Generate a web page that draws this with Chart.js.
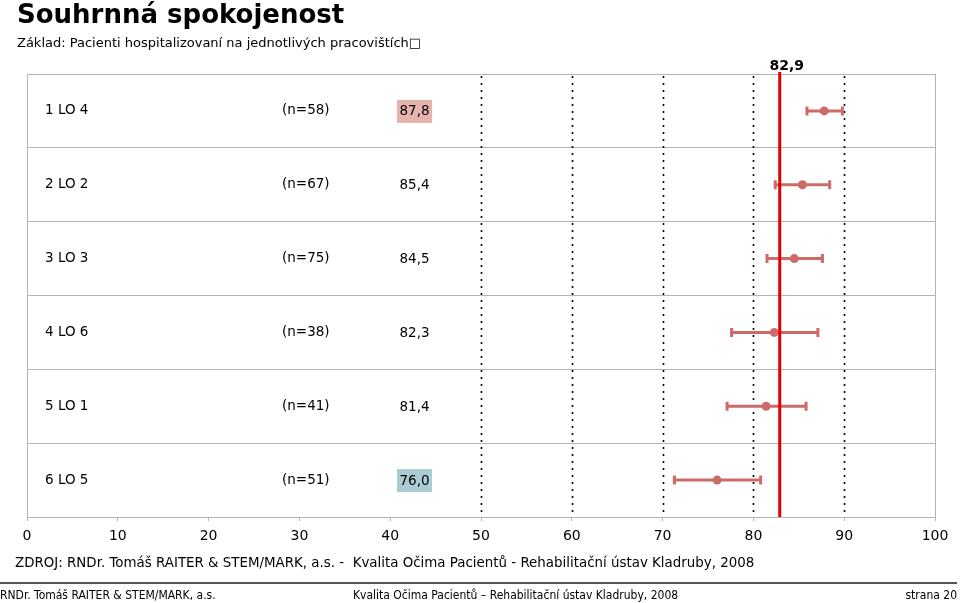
<!DOCTYPE html>
<html>
<head>
<meta charset="utf-8">
<script src="https://cdn.jsdelivr.net/npm/chart.js"></script>
<style>
  html, body { margin: 0; padding: 0; background: #fff; }
  body { width: 960px; height: 603px; position: relative; overflow: hidden; font-family: "DejaVu Sans", Verdana, sans-serif; color: #000; }
  #chart-box { position: absolute; left: 0; top: 0; width: 960px; height: 603px; }
  .txt { position: absolute; white-space: nowrap; }
  #title { left: 17px; top: -1px; font-size: 26px; font-weight: bold; }
  #subtitle { left: 17px; top: 35px; font-size: 13px; }
  #source { left: 15px; top: 555px; font-size: 13.4px; }
  #footline { position: absolute; left: 0; top: 582px; width: 957px; height: 2px; background: #555; }
  .foot { top: 588px; font-size: 12px; font-family: "DejaVu Sans Condensed", "DejaVu Sans", sans-serif; }
</style>
</head>
<body>
<div id="chart-box"><canvas id="myChart"></canvas></div>
<div class="txt" id="title">Souhrnná spokojenost</div>
<div class="txt" id="subtitle">Základ: Pacienti hospitalizovaní na jednotlivých pracovištích&#9633;</div>
<div class="txt" id="source">ZDROJ: RNDr. Tomáš RAITER &amp; STEM/MARK, a.s. -&nbsp; Kvalita Očima Pacientů - Rehabilitační ústav Kladruby, 2008</div>
<div id="footline"></div>
<div class="txt foot" style="left:0px;">RNDr. Tomáš RAITER &amp; STEM/MARK, a.s.</div>
<div class="txt foot" style="left:353px;">Kvalita Očima Pacientů – Rehabilitační ústav Kladruby, 2008</div>
<div class="txt foot" style="right:3px;">strana 20</div>
<script>
const departments = ["1 LO 4", "2 LO 2", "3 LO 3", "4 LO 6", "5 LO 1", "6 LO 5"];
const respondents = [58, 67, 75, 38, 41, 51];
const means = [87.8, 85.4, 84.5, 82.3, 81.4, 76.0];
const lows = [85.9, 82.4, 81.5, 77.6, 77.1, 71.3];
const highs = [89.8, 88.4, 87.6, 87.1, 85.8, 80.8];
const overall = 82.9;
const xTicks = [0, 10, 20, 30, 40, 50, 60, 70, 80, 90, 100];
const dottedLines = [50, 60, 70, 80, 90];

const FONT = '"DejaVu Sans", Verdana, sans-serif';
const BAR_COLOR = "#cd6b68";

function fmt(v) {
  return v.toFixed(1).replace(".", ",");
}

// error bars + dotted reference lines, under the points
const backgroundMarks = {
  id: "backgroundMarks",
  beforeDatasetsDraw(chart) {
    const { ctx, chartArea, scales } = chart;
    const x = scales.x;
    const y = scales.y;
    ctx.save();
    ctx.strokeStyle = "#000";
    ctx.lineWidth = 1.6;
    ctx.setLineDash([2, 5]);
    dottedLines.forEach((v) => {
      const px = Math.round(x.getPixelForValue(v)) + 0.5;
      ctx.beginPath();
      ctx.moveTo(px, chartArea.top + 2);
      ctx.lineTo(px, chartArea.bottom);
      ctx.stroke();
    });
    ctx.setLineDash([]);
    ctx.strokeStyle = BAR_COLOR;
    ctx.lineWidth = 3;
    means.forEach((m, i) => {
      const py = y.getPixelForValue(i + 0.5);
      const x1 = x.getPixelForValue(lows[i]);
      const x2 = x.getPixelForValue(highs[i]);
      ctx.beginPath();
      ctx.moveTo(x1, py);
      ctx.lineTo(x2, py);
      ctx.moveTo(x1, py - 4.5);
      ctx.lineTo(x1, py + 4.5);
      ctx.moveTo(x2, py - 4.5);
      ctx.lineTo(x2, py + 4.5);
      ctx.stroke();
    });
    ctx.restore();
  },
  afterDatasetsDraw(chart) {
    const { ctx, chartArea, scales } = chart;
    const x = scales.x;
    const y = scales.y;
    ctx.save();
    // overall average line
    const px = x.getPixelForValue(overall);
    ctx.strokeStyle = "#e00000";
    ctx.lineWidth = 3;
    ctx.beginPath();
    ctx.moveTo(px, chartArea.top - 2);
    ctx.lineTo(px, chartArea.bottom);
    ctx.stroke();
    ctx.fillStyle = "#000";
    ctx.font = "bold 14px " + FONT;
    ctx.textAlign = "center";
    ctx.textBaseline = "alphabetic";
    ctx.fillText(fmt(overall), px + 7, chartArea.top - 4);

    // row texts
    ctx.font = "13.5px " + FONT;
    ctx.textBaseline = "middle";
    departments.forEach((name, i) => {
      const py = y.getPixelForValue(i + 0.5);
      ctx.textAlign = "left";
      ctx.fillStyle = "#000";
      ctx.fillText(name, 45, py);
      ctx.fillText("(n=" + respondents[i] + ")", 282, py);
      const label = fmt(means[i]);
      const w = ctx.measureText(label).width;
      if (i === 0) {
        ctx.fillStyle = "#e6b4ae";
        ctx.fillRect(397, py - 11, w + 5, 23);
      } else if (i === departments.length - 1) {
        ctx.fillStyle = "#abcbd3";
        ctx.fillRect(397, py - 11, w + 5, 23);
      }
      ctx.fillStyle = "#000";
      ctx.fillText(label, 399.5, py + 1);
    });
    ctx.restore();
  },
};

new Chart(document.getElementById("myChart"), {
  type: "scatter",
  data: {
    datasets: [
      {
        label: "Průměr",
        data: means.map((m, i) => ({ x: m, y: i + 0.5 })),
        pointRadius: 4.5,
        pointHoverRadius: 4.5,
        pointBackgroundColor: BAR_COLOR,
        pointBorderColor: BAR_COLOR,
        borderWidth: 0,
      },
    ],
  },
  options: {
    responsive: true,
    maintainAspectRatio: false,
    animation: false,
    layout: { padding: { top: 74, left: 27, right: 25, bottom: 56 } },
    plugins: {
      legend: { display: false },
      tooltip: { enabled: false },
    },
    scales: {
      x: {
        type: "linear",
        min: 0,
        max: 100,
        afterBuildTicks: (scale) => {
          scale.ticks = xTicks.map((v) => ({ value: v }));
        },
        afterFit: (scale) => {
          scale.height = 30;
        },
        ticks: {
          color: "#000",
          font: { family: FONT, size: 14 },
          padding: 7,
          maxRotation: 0,
        },
        grid: {
          drawOnChartArea: true,
          color: (ctx) => (ctx.tick && ctx.tick.value === 100 ? "#b4b4b4" : "transparent"),
          tickColor: "#b4b4b4",
          tickLength: 4,
        },
        border: { color: "#b4b4b4", width: 1 },
      },
      y: {
        type: "linear",
        min: 0,
        max: departments.length,
        reverse: true,
        afterFit: (scale) => {
          scale.width = 0;
        },
        ticks: { display: false, stepSize: 1 },
        grid: { color: "#b4b4b4", drawTicks: false },
        border: { color: "#b4b4b4", width: 1 },
      },
    },
  },
  plugins: [backgroundMarks],
});
</script>
</body>
</html>
